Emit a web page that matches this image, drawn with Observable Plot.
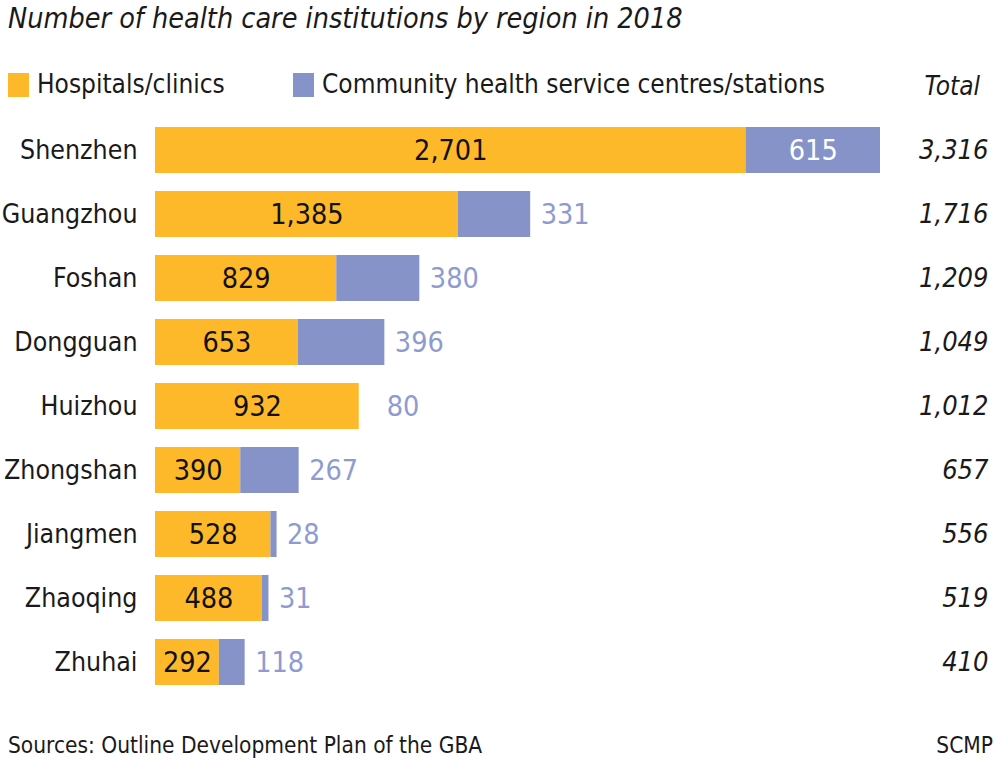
<!DOCTYPE html>
<html>
<head>
<meta charset="utf-8">
<script src="https://cdn.jsdelivr.net/npm/d3@7"></script>
<script src="https://cdn.jsdelivr.net/npm/@observablehq/plot@0.6"></script>
<style>
  html, body { margin: 0; padding: 0; background: #fff; }
  body { width: 1000px; height: 761px; position: relative; overflow: hidden;
         font-family: "Liberation Sans Narrow", "DejaVu Sans Condensed", Roboto, sans-serif; color: #1a1a1a; }
  #title { position: absolute; left: 8px; top: 1px; font-size: 28.5px; font-style: italic; line-height: 36px; white-space: nowrap; }
  #legend { position: absolute; left: 8px; top: 66px; width: 984px; height: 36px; font-size: 26px; line-height: 36px; white-space: nowrap; }
  .sw { display: inline-block; width: 21px; height: 24px; vertical-align: -4px; margin-right: 8px; }
  .item { position: absolute; top: 0; }
  #total { position: absolute; right: 12px; top: 2px; font-style: italic; }
  #chart { position: absolute; left: 0; top: 106px; }
  #footer { position: absolute; left: 8px; right: 7px; top: 729px; font-size: 22.5px; line-height: 32px; white-space: nowrap; }
  #footer span.r { position: absolute; right: 0; top: 0; }
</style>
</head>
<body>
<div id="title">Number of health care institutions by region in 2018</div>
<div id="legend"></div>
<div id="chart"></div>
<div id="footer"><span>Sources: Outline Development Plan of the GBA</span><span class="r">SCMP</span></div>
<script>
const regions = ["Shenzhen", "Guangzhou", "Foshan", "Dongguan", "Huizhou", "Zhongshan", "Jiangmen", "Zhaoqing", "Zhuhai"];
const hospitals = [2701, 1385, 829, 653, 932, 390, 528, 488, 292];
const community = [615, 331, 380, 396, 80, 267, 28, 31, 118];
const totals = [3316, 1716, 1209, 1049, 1012, 657, 556, 519, 410];
// the reference picture draws no community segment for Huizhou (only its label)
const communityBarDrawn = [true, true, true, true, false, true, true, true, true];
const seriesNames = ["Hospitals/clinics", "Community health service centres/stations"];
const seriesColors = ["#fdb92a", "#8693c9"];
const labelBlue = "#8e9bd0";

const fmt = d3.format(",");

const legend = document.getElementById("legend");
legend.innerHTML =
  `<span class="item" style="left:0"><span class="sw" style="background:${seriesColors[0]}"></span>${seriesNames[0]}</span>` +
  `<span class="item" style="left:285px"><span class="sw" style="background:${seriesColors[1]}"></span>${seriesNames[1]}</span>` +
  `<span id="total">Total</span>`;

const rows = [];
regions.forEach((r, i) => {
  rows.push({region: r, series: seriesNames[0], value: hospitals[i], order: 0, shown: true});
  rows.push({region: r, series: seriesNames[1], value: community[i], order: 1, shown: communityBarDrawn[i]});
});
const table = regions.map((r, i) => ({region: r, hosp: hospitals[i], comm: community[i], total: totals[i]}));

const chart = Plot.plot({
  width: 1000,
  height: 600,
  marginLeft: 155,
  marginRight: 120,
  marginTop: 0,
  marginBottom: 0,
  style: {fontFamily: '"Liberation Sans Narrow", "DejaVu Sans Condensed", Roboto, sans-serif', fontSize: "26px", color: "#1a1a1a"},
  x: {domain: [0, 3316], axis: null},
  y: {domain: regions, padding: 0.28, label: null, tickSize: 0, tickPadding: 18},
  color: {domain: seriesNames, range: seriesColors},
  marks: [
    Plot.barX(rows, Plot.stackX({x: "value", y: "region", fill: "series", order: "order", fillOpacity: d => d.shown ? 1 : 0})),
    Plot.text(table, {x: d => d.hosp / 2, y: "region", text: d => fmt(d.hosp), fill: "#111", fontSize: 28.5}),
    Plot.text(table.filter(d => d.comm >= 500), {x: d => d.hosp + d.comm / 2, y: "region", text: d => fmt(d.comm), fill: "#fff", fontSize: 28.5}),
    Plot.text(table.filter(d => d.comm < 500), {x: "total", y: "region", text: d => fmt(d.comm), fill: labelBlue, fontSize: 28.5, textAnchor: "start", dx: 10}),
    Plot.text(table, {frameAnchor: "right", y: "region", text: d => fmt(d.total), textAnchor: "end", dx: 108, fontStyle: "italic", fontSize: 27, fill: "#1a1a1a"}),
    Plot.axisY({tickSize: 0, tickPadding: 18, fontSize: 26.5, label: null})
  ]
});
document.getElementById("chart").appendChild(chart);
</script>
</body>
</html>
